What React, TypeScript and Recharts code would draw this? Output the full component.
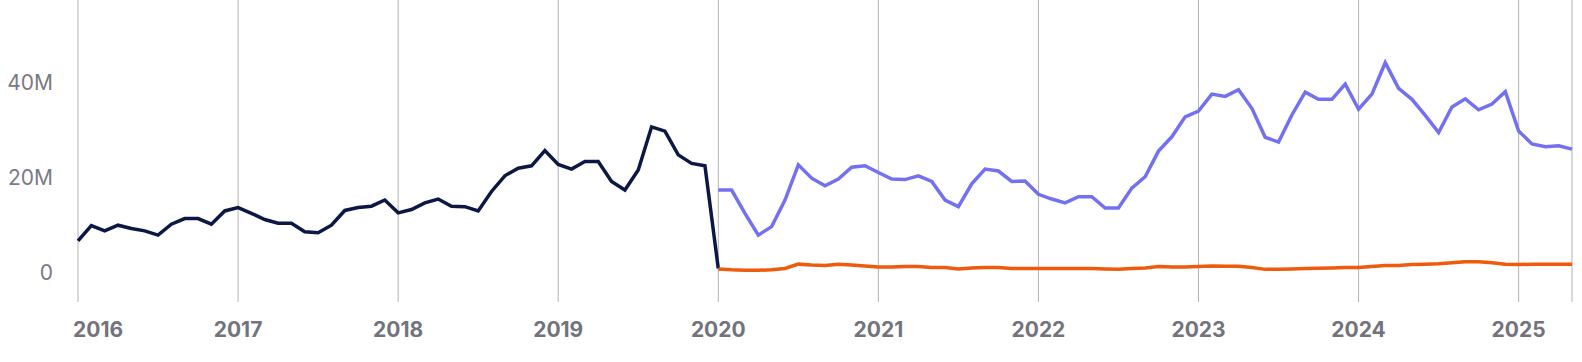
import { CartesianGrid, Line, LineChart, XAxis, YAxis } from "recharts";

// tick labels, one per January
const years = ["2016", "2017", "2018", "2019", "2020", "2021", "2022", "2023", "2024", "2025"];

// monthly values in millions, Jan 2016 - Jan 2020
const legacy = [
  6.7, 9.9, 8.8, 10.0, 9.3, 8.8, 7.9, 10.2, 11.4, 11.4, 10.2, 13.0,
  13.7, 12.5, 11.2, 10.4, 10.4, 8.6, 8.4, 10.0, 13.1, 13.7, 14.0, 15.3,
  12.6, 13.3, 14.7, 15.5, 14.0, 13.9, 13.0, 17.1, 20.4, 22.0, 22.5, 25.7,
  22.8, 21.8, 23.4, 23.4, 19.2, 17.4, 21.6, 30.7, 29.8, 24.8, 23.0, 22.5,
  0.9,
];

// Jan 2020 - May 2025
const primary = [
  17.4, 17.4, 12.5, 7.9, 9.7, 15.3, 22.7, 19.9, 18.3, 19.7, 22.2, 22.5,
  21.1, 19.7, 19.6, 20.4, 19.2, 15.3, 13.9, 18.7, 21.8, 21.4, 19.2, 19.3,
  16.5, 15.5, 14.7, 16.0, 16.0, 13.6, 13.6, 17.8, 20.2, 25.6, 28.6, 32.8,
  34.0, 37.6, 37.1, 38.5, 34.6, 28.5, 27.5, 33.2, 38.0, 36.5, 36.5, 39.7,
  34.4, 37.6, 44.2, 38.8, 36.5, 33.1, 29.5, 34.9, 36.6, 34.3, 35.5, 38.1,
  29.8, 27.1, 26.5, 26.7, 26.0,
];

// Jan 2020 - May 2025
const secondary = [
  0.8, 0.6, 0.5, 0.5, 0.6, 0.9, 1.8, 1.6, 1.5, 1.8, 1.6, 1.4,
  1.2, 1.2, 1.3, 1.3, 1.1, 1.1, 0.8, 1.0, 1.1, 1.1, 0.9, 0.9,
  0.9, 0.9, 0.9, 0.9, 0.9, 0.8, 0.7, 0.9, 1.0, 1.3, 1.2, 1.2,
  1.3, 1.4, 1.35, 1.35, 1.1, 0.7, 0.7, 0.8, 0.9, 0.95, 1.0, 1.1,
  1.1, 1.3, 1.5, 1.5, 1.7, 1.8, 1.9, 2.1, 2.3, 2.3, 2.1, 1.8,
  1.7, 1.8, 1.8, 1.8, 1.8,
];

const splitAt = legacy.length - 1;
const data = Array.from({ length: splitAt + primary.length }, (_, i) => ({
  i,
  legacy: i <= splitAt ? legacy[i] : null,
  primary: i >= splitAt ? primary[i - splitAt] : null,
  secondary: i >= splitAt ? secondary[i - splitAt] : null,
}));

const font = "Inter, 'Noto Sans', sans-serif";

// first year label sits to the right of its gridline, the rest are centred
function YearTick(props: any) {
  const { x, y, payload, index } = props;
  const first = index === 0;
  return (
    <text
      x={first ? x - 5 : x}
      y={y}
      dy="0.71em"
      textAnchor={first ? "start" : "middle"}
      fill="#73737d"
      fontSize={21}
      fontWeight={700}
      fontFamily={font}
    >
      {years[payload.value / 12]}
    </text>
  );
}

export default function App() {
  return (
    <div style={{ position: "absolute", left: 0, top: 0, background: "#fff" }}>
      <LineChart width={1582} height={362} data={data} margin={{ top: 0, right: 10, bottom: 0, left: 0 }}>
        <CartesianGrid horizontal={false} stroke="#b3b3b3" strokeWidth={1} />
        <XAxis
          dataKey="i"
          type="number"
          domain={[0, data.length - 1]}
          ticks={years.map((_, k) => k * 12)}
          axisLine={false}
          tickLine={false}
          height={60}
          tickMargin={14}
          tick={<YearTick />}
        />
        <YAxis
          type="number"
          domain={[-6.17, 57.4]}
          ticks={[0, 20, 40]}
          tickFormatter={(v) => (v === 0 ? "0" : `${v}M`)}
          axisLine={false}
          tickLine={false}
          width={78}
          tickMargin={19}
          allowDataOverflow
          tick={{ fill: "#7a7a85", fontSize: 21, fontWeight: 400, fontFamily: font }}
        />
        <Line dataKey="legacy" stroke="#0c1844" strokeWidth={3.5} dot={false} isAnimationActive={false} />
        <Line dataKey="primary" stroke="#7371f2" strokeWidth={3.5} dot={false} isAnimationActive={false} />
        <Line dataKey="secondary" stroke="#ef5b0c" strokeWidth={3.5} dot={false} isAnimationActive={false} />
      </LineChart>
    </div>
  );
}
